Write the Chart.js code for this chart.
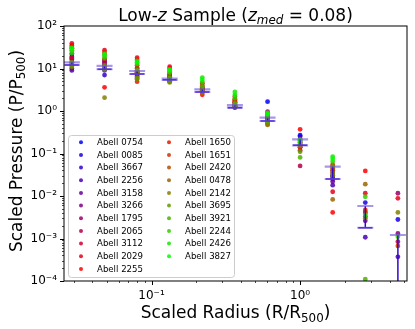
<!DOCTYPE html>
<html>
<head>
<meta charset="utf-8">
<script src="https://cdn.jsdelivr.net/npm/chart.js@4.4.1/dist/chart.umd.min.js"></script>
<style>
  body { margin: 0; background: #fff; }
  #wrap { width: 415px; height: 329px; }
</style>
</head>
<body>
<div id="wrap"><canvas id="pressureChart" width="415" height="329"></canvas></div>
<script>
// radial bins (R/R500)
const radius = [0.0291, 0.0483, 0.080, 0.1325, 0.2197, 0.364, 0.604, 1.0, 1.657, 2.746, 4.55];

const clusters = ['Abell 0754', 'Abell 0085', 'Abell 3667', 'Abell 2256', 'Abell 3158', 'Abell 3266',
    'Abell 1795', 'Abell 2065', 'Abell 3112', 'Abell 2029', 'Abell 2255', 'Abell 1650', 'Abell 1651',
    'Abell 2420', 'Abell 0478', 'Abell 2142', 'Abell 3695', 'Abell 3921', 'Abell 2244', 'Abell 2426',
    'Abell 3827'];

// scaled pressure P/P500, one row per cluster (null = no measurement)
const pressure = [
    [22, 15, 7.8, 5.7, 3.0, 1.3, 1.66, 0.27, 0.030, null, null],        // 0754
    [19, 13, 8.5, 6.0, 3.2, 1.35, 0.70, 0.25, 0.028, 0.0070, 0.0028],    // 0085
    [17, 7.0, 7.0, 5.5, 2.9, 1.25, 0.65, 0.20, 0.025, null, null],       // 3667
    [9.0, 9.0, 6.5, 5.2, 2.8, 1.2, 0.60, 0.18, 0.018, 0.00107, 0.00037], // 2256
    [10, 10, 10.3, 5.0, 3.0, 1.3, 0.62, 0.16, 0.022, 0.0026, null],      // 3158
    [12, 11, 9.0, 6.2, 3.1, 1.4, 0.85, 0.14, 0.040, null, 0.00132],      // 3266
    [14, 12, 8.0, 7.0, 3.4, 1.5, 0.96, 0.15, 0.035, 0.0033, 0.0116],     // 1795
    [16, 14, 6.0, 7.5, 3.3, 1.6, 0.75, 0.051, 0.030, null, 0.00084],     // 2065
    [18, 16, 7.2, 6.5, 3.0, 1.7, 0.70, 0.12, 0.050, 0.0040, null],       // 3112
    [39, 27, 18, 11, 4.5, 2.2, 0.80, 0.22, 0.0126, 0.0116, 0.0088],      // 2029
    [35, 3.6, 16, 10, 2.4, 1.9, 0.65, 0.37, 0.0041, 0.039, null],        // 2255
    [30, 24, 4.9, 8.5, 4.0, 1.8, 0.60, 0.14, 0.055, 0.0047, null],       // 1650
    [32, 21, 12, 7.0, 3.6, 1.6, 0.55, 0.16, 0.045, 0.0042, 0.00067],     // 1651
    [26, 17, 10, 6.0, 3.2, 1.45, 0.50, 0.18, 0.040, null, null],         // 2420
    [13, 12, 8.0, 5.5, 2.9, 1.3, 0.47, 0.19, 0.0083, 0.019, null],       // 0478
    [11, 2.06, 5.6, 4.7, 2.7, 1.25, 0.50, 0.15, 0.035, 0.0030, 0.0041],  // 2142
    [12, 9.5, 6.0, 4.9, 3.0, 1.3, 0.55, 0.11, 0.030, null, null],        // 3695
    [14, 11, 9.0, 6.0, 3.8, 1.5, 0.60, 0.081, 0.050, 0.000111, null],    // 3921
    [23, 18, 13, 8.0, 4.8, 2.0, 0.75, 0.20, 0.065, 0.0096, 0.0011],      // 2244
    [27, 20, 15, 9.5, 6.1, 2.8, 0.90, 0.17, 0.084, 0.0036, null],        // 2426
    [30, 22, 14, 9.0, 5.4, 2.4, 0.85, 0.21, 0.075, null, null]           // 3827
];

// binned scatter: upper and lower ends of the error bar
const errHi = [14.0, 11.5, 8.74, 5.8, 3.24, 1.38, 0.697, 0.216, 0.0489, 0.00582, 0.00121];
const errLo = [12.1, 9.6, 7.43, 5.4, 2.80, 1.20, 0.582, 0.156, 0.0251, 0.00179, 0.000001];

const FONT = '"DejaVu Sans", "Liberation Sans", sans-serif';

// matplotlib "brg" colormap
function brg(t) {
    let r, g, b;
    if (t <= 0.5) { r = 2 * t; g = 0; b = 1 - 2 * t; }
    else { r = 2 - 2 * t; g = 2 * t - 1; b = 0; }
    return [Math.round(r * 255), Math.round(g * 255), Math.round(b * 255)];
}

const SUP = { '-': '\u207B', '0': '\u2070', '1': '\u00B9', '2': '\u00B2', '3': '\u00B3', '4': '\u2074', '5': '\u2075' };
function powLabel(v) {
    const e = Math.log10(v);
    const r = Math.round(e);
    if (Math.abs(e - r) > 1e-6) return '';
    return '10' + String(r).split('').map(c => SUP[c]).join('');
}

// text with italic / subscript pieces: [text, italic, sub]
function drawRich(ctx, parts, cx, baseY, size) {
    const fontOf = p => (p[1] ? 'italic ' : '') + (p[2] ? size * 0.7 : size) + 'px ' + FONT;
    let total = 0;
    parts.forEach(p => { ctx.font = fontOf(p); total += ctx.measureText(p[0]).width; });
    let x = cx - total / 2;
    ctx.textAlign = 'left';
    ctx.textBaseline = 'alphabetic';
    ctx.fillStyle = '#000';
    parts.forEach(p => {
        ctx.font = fontOf(p);
        ctx.fillText(p[0], x, baseY + (p[2] ? size * 0.22 : 0));
        x += ctx.measureText(p[0]).width;
    });
}

const errorBarPlugin = {
    id: 'errorBars',
    afterDatasetsDraw(chart) {
        const { ctx, chartArea: a, scales: { x, y } } = chart;
        ctx.save();
        ctx.beginPath();
        ctx.rect(a.left, a.top, a.right - a.left, a.bottom - a.top);
        ctx.clip();
        radius.forEach((r, i) => {
            const px = x.getPixelForValue(r);
            const yh = y.getPixelForValue(errHi[i]);
            const yl = y.getPixelForValue(errLo[i]);
            ctx.strokeStyle = '#3308cc';
            ctx.lineWidth = 1.5;
            ctx.beginPath();
            ctx.moveTo(px, yh); ctx.lineTo(px, yl);
            ctx.moveTo(px - 7, yl); ctx.lineTo(px + 7, yl);
            ctx.stroke();
            ctx.strokeStyle = 'rgba(110, 80, 225, 0.6)';
            ctx.lineWidth = 2.2;
            ctx.beginPath();
            ctx.moveTo(px - 8, yh); ctx.lineTo(px + 8, yh);
            ctx.moveTo(px - 8, yl); ctx.lineTo(px + 8, yl);
            ctx.stroke();
        });
        ctx.restore();
    }
};

const framePlugin = {
    id: 'frame',
    afterDraw(chart) {
        const { ctx, chartArea: a, scales: { x, y } } = chart;
        ctx.save();
        ctx.strokeStyle = '#000';
        ctx.lineWidth = 1;
        ctx.strokeRect(a.left, a.top, a.right - a.left, a.bottom - a.top);

        // log ticks, outward on left and bottom
        const drawTicks = (scale, horizontal) => {
            const lo = Math.floor(Math.log10(scale.min)), hi = Math.ceil(Math.log10(scale.max));
            for (let e = lo; e <= hi; e++) {
                for (let m = 1; m <= 9; m++) {
                    const v = m * Math.pow(10, e);
                    if (v < scale.min * 0.999 || v > scale.max * 1.001) continue;
                    const p = Math.round(scale.getPixelForValue(v)) + 0.5;
                    const len = m === 1 ? 4 : 2;
                    ctx.lineWidth = m === 1 ? 1 : 0.7;
                    ctx.beginPath();
                    if (horizontal) { ctx.moveTo(p, a.bottom); ctx.lineTo(p, a.bottom + len); }
                    else { ctx.moveTo(a.left, p); ctx.lineTo(a.left - len, p); }
                    ctx.stroke();
                }
            }
        };
        drawTicks(x, true);
        drawTicks(y, false);

        // titles
        drawRich(ctx, [['Low-', 0, 0], ['z', 1, 0], [' Sample (', 0, 0], ['z', 1, 0], ['med', 1, 1], [' = 0.08)', 0, 0]],
            (a.left + a.right) / 2, 20.5, 17);
        drawRich(ctx, [['Scaled Radius (R/R', 0, 0], ['500', 0, 1], [')', 0, 0]], (a.left + a.right) / 2, 318, 17);
        ctx.save();
        ctx.translate(21.5, 151);
        ctx.rotate(-Math.PI / 2);
        drawRich(ctx, [['Scaled Pressure (P/P', 0, 0], ['500', 0, 1], [')', 0, 0]], 0, 0, 17);
        ctx.restore();

        // legend, two columns filled top to bottom
        const box = { l: 68, t: 135, r: 234, b: 277 };
        ctx.fillStyle = 'rgba(255,255,255,0.8)';
        ctx.strokeStyle = '#cccccc';
        ctx.lineWidth = 1;
        ctx.beginPath();
        ctx.roundRect(box.l + 0.5, box.t + 0.5, box.r - box.l, box.b - box.t, 3);
        ctx.fill();
        ctx.stroke();
        const rows = Math.ceil(clusters.length / 2);
        ctx.font = '8.6px ' + FONT;
        ctx.textAlign = 'left';
        ctx.textBaseline = 'middle';
        chart.data.datasets.forEach((ds, i) => {
            const col = Math.floor(i / rows), row = i % rows;
            const cy = 142.3 + row * 12.66;
            const mx = col === 0 ? 81 : 169;
            ctx.fillStyle = ds.backgroundColor;
            ctx.beginPath();
            ctx.arc(mx, cy, 2, 0, Math.PI * 2);
            ctx.fill();
            ctx.fillStyle = '#000';
            ctx.fillText(ds.label, mx + 16, cy + 0.5);
        });
        ctx.restore();
    }
};

const datasets = clusters.map((name, i) => {
    const [r, g, b] = brg(i / (clusters.length - 1));
    const pts = [];
    pressure[i].forEach((v, k) => { if (v !== null) pts.push({ x: radius[k], y: v }); });
    return {
        label: name,
        data: pts,
        backgroundColor: `rgba(${r},${g},${b},0.85)`,
        borderWidth: 0,
        pointRadius: 2.4,
        order: clusters.length - i
    };
});

new Chart(document.getElementById('pressureChart'), {
    type: 'scatter',
    data: { datasets: datasets },
    options: {
        responsive: false,
        animation: false,
        devicePixelRatio: 1,
        layout: { padding: { top: 26, right: 7, bottom: 0, left: 0 } },
        plugins: { legend: { display: false }, title: { display: false }, tooltip: { enabled: false } },
        scales: {
            x: {
                type: 'logarithmic',
                min: 0.02577,
                max: 5.24,
                grid: { display: false, drawTicks: false },
                border: { display: false },
                afterFit: s => { s.height = 48; },
                ticks: {
                    autoSkip: false, maxRotation: 0, padding: 8, color: '#000',
                    font: { family: FONT, size: 12 },
                    callback: v => powLabel(v)
                }
            },
            y: {
                type: 'logarithmic',
                min: 1e-4,
                max: 100,
                grid: { display: false, drawTicks: false },
                border: { display: false },
                afterFit: s => { s.width = 64; },
                ticks: {
                    autoSkip: false, padding: 7, color: '#000',
                    font: { family: FONT, size: 12 },
                    callback: v => powLabel(v)
                }
            }
        }
    },
    plugins: [errorBarPlugin, framePlugin]
});
</script>
</body>
</html>
